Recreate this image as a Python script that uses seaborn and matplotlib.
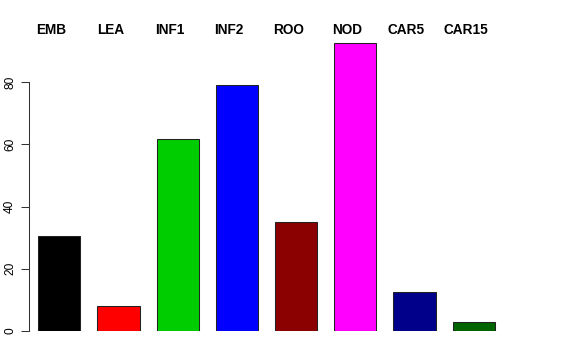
import matplotlib
matplotlib.use("Agg")
import matplotlib.pyplot as plt
import matplotlib.transforms as mtransforms
import seaborn as sns
import pandas as pd

categories = ["EMB", "LEA", "INF1", "INF2", "ROO", "NOD", "CAR5", "CAR15"]
values = [30.6, 8.1, 61.8, 79.2, 35.2, 92.6, 12.5, 2.9]
colors = ["#000000", "#FF0000", "#00CD00", "#0000FF", "#8B0000", "#FF00FF", "#00008B", "#006400"]
yticks = [0, 20, 40, 60, 80]

df = pd.DataFrame({"cat": categories, "val": values})

sns.set_style("white")
plt.rcParams["font.family"] = ["Liberation Sans", "DejaVu Sans"]
plt.rcParams["text.color"] = "black"
plt.rcParams["ytick.color"] = "black"
plt.rcParams["ytick.labelcolor"] = "black"

fig = plt.figure(figsize=(5.76, 3.6), dpi=100)
W, H = 576, 360
left_px, right_px = 29, 576
bottom_px, top_px = 331, 20.1
ax = fig.add_axes([left_px / W, (H - bottom_px) / H, (right_px - left_px) / W, (bottom_px - top_px) / H])

sns.barplot(data=df, x="cat", y="val", hue="cat", palette=colors, legend=False,
            width=0.71, edgecolor="#222222", linewidth=0.75, ax=ax, saturation=1)

pitch = 59.2
x0 = 59.3
ax.set_xlim((left_px - x0) / pitch, (right_px - x0) / pitch)
ax.set_ylim(0, 100)

for s in ["top", "right", "bottom"]:
    ax.spines[s].set_visible(False)
ax.spines["left"].set_bounds(0, 80)
ax.spines["left"].set_color("#333333")
ax.spines["left"].set_linewidth(0.75)
ax.set_xticks([])
ax.set_xlabel("")
ax.set_ylabel("")
ax.set_yticks(yticks)
ax.set_yticklabels([str(t) for t in yticks], rotation=90, va="center", fontsize=8.6, color="black")
ax.tick_params(axis="y", direction="out", length=5.8, width=0.75, color="#333333", pad=3.5, left=True)
ax.patch.set_alpha(0)

offset = mtransforms.ScaledTranslation(-8 / 100, 0, fig.dpi_scale_trans)
for i, c in enumerate(categories):
    ax.text(i, 96.8, c, ha="center", va="center", fontsize=9.8, fontweight="bold", color="black",
            transform=ax.transData + offset, clip_on=False)

fig.savefig("out.png", dpi=100)
